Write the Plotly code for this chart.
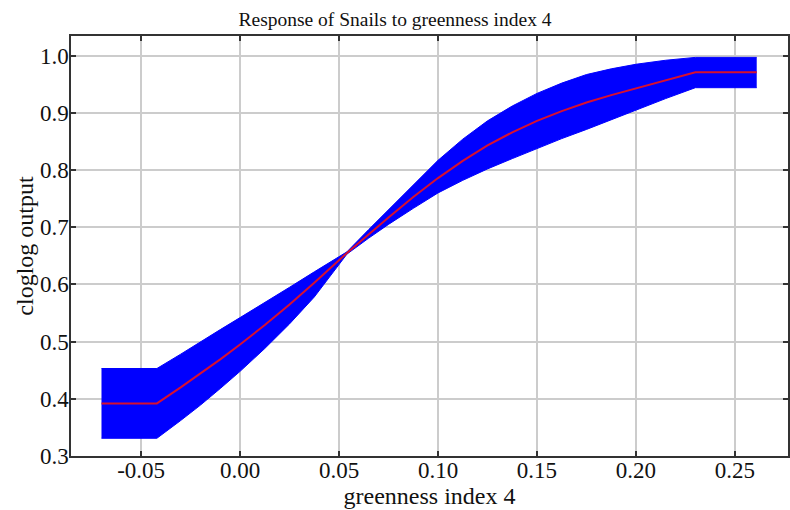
import plotly.graph_objects as go

x_vals = [-0.07, -0.042, -0.03, -0.02, -0.01, 0.0, 0.0125, 0.025, 0.0375, 0.054, 0.065, 0.075,
          0.0875, 0.10, 0.1125, 0.125, 0.1375, 0.15, 0.1625, 0.175, 0.1875, 0.20, 0.215, 0.23, 0.261]
mean_vals = [0.392, 0.392, 0.420, 0.444, 0.469, 0.495, 0.529, 0.565, 0.603, 0.655, 0.688, 0.717,
             0.753, 0.786, 0.816, 0.843, 0.866, 0.886, 0.903, 0.918, 0.931, 0.943, 0.957, 0.971, 0.971]
upper_vals = [0.453, 0.453, 0.478, 0.500, 0.521, 0.542, 0.568, 0.595, 0.622, 0.657, 0.696, 0.731,
              0.774, 0.817, 0.854, 0.886, 0.912, 0.934, 0.952, 0.967, 0.977, 0.985, 0.992, 0.997, 0.997]
lower_vals = [0.331, 0.331, 0.362, 0.389, 0.418, 0.448, 0.488, 0.531, 0.578, 0.653, 0.681, 0.705,
              0.733, 0.760, 0.782, 0.802, 0.820, 0.838, 0.855, 0.871, 0.888, 0.905, 0.925, 0.944, 0.944]

x_ticks = [-0.05, 0.0, 0.05, 0.10, 0.15, 0.20, 0.25]
x_tick_text = ["-0.05", "0.00", "0.05", "0.10", "0.15", "0.20", "0.25"]
y_ticks = [0.3, 0.4, 0.5, 0.6, 0.7, 0.8, 0.9, 1.0]
y_tick_text = ["0.3", "0.4", "0.5", "0.6", "0.7", "0.8", "0.9", "1.0"]

FONT = "Liberation Serif, Times New Roman, serif"
TXT = "#111111"

fig = go.Figure()
fig.add_trace(go.Scatter(x=x_vals, y=upper_vals, mode="lines",
                         line=dict(color="#0000ff", width=1),
                         showlegend=False, hoverinfo="skip"))
fig.add_trace(go.Scatter(x=x_vals, y=lower_vals, mode="lines",
                         line=dict(color="#0000ff", width=1),
                         fill="tonexty", fillcolor="#0000ff", showlegend=False, hoverinfo="skip"))
fig.add_trace(go.Scatter(x=x_vals, y=mean_vals, mode="lines",
                         line=dict(color="#d8102e", width=2),
                         showlegend=False))

axis_common = dict(
    showline=True, linecolor="#333333", linewidth=1.5, mirror="ticks",
    ticks="inside", ticklen=5, tickwidth=1.5, tickcolor="#333333",
    showgrid=True, gridcolor="#cccccc", gridwidth=1.5, zeroline=False,
    automargin=False,
    tickfont=dict(family=FONT, size=23, color=TXT),
)

fig.update_layout(
    width=790, height=510,
    margin=dict(l=71, r=2, t=36, b=54, autoexpand=False),
    paper_bgcolor="white", plot_bgcolor="white",
    title=dict(text="Response of Snails to greenness index 4", x=0.5, xanchor="center",
               xref="container", yref="container", y=1 - 19 / 510, yanchor="middle",
               font=dict(family=FONT, size=19.5, color=TXT)),
    xaxis=dict(range=[-0.0854, 0.2768], tickvals=x_ticks, ticktext=x_tick_text,
               ticklabelstandoff=-7,
               title=dict(text="greenness index 4", font=dict(family=FONT, size=24, color=TXT),
                          standoff=0),
               **axis_common),
    yaxis=dict(range=[0.3, 1.0344], tickvals=y_ticks, ticktext=y_tick_text,
               ticklabelstandoff=-4,
               title=dict(text="cloglog output", font=dict(family=FONT, size=24, color=TXT),
                          standoff=0),
               **axis_common),
)

fig.write_html("out.html", config={"displayModeBar": False},
               post_script="document.body.style.margin='0';document.body.style.padding='0';")
